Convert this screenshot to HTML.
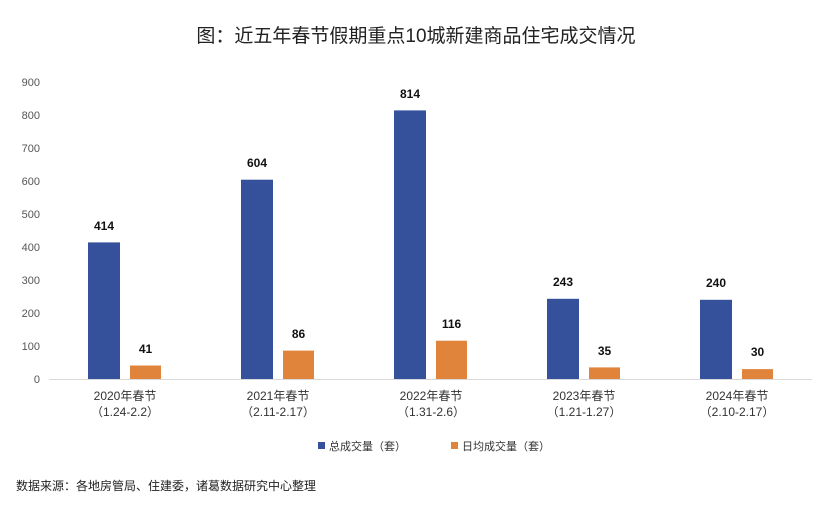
<!DOCTYPE html>
<html><head><meta charset="utf-8"><style>
body{margin:0;background:#fff;width:832px;height:502px;overflow:hidden}
svg text{font-family:"Liberation Sans","Noto Sans CJK SC",sans-serif}
</style></head><body>
<svg width="832" height="502" xmlns="http://www.w3.org/2000/svg">
<text x="416" y="42" font-size="19" text-anchor="middle" fill="#222">图：近五年春节假期重点10城新建商品住宅成交情况</text>
<g font-size="11" fill="#555" text-anchor="end">
<text x="40" y="383">0</text><text x="40" y="350">100</text><text x="40" y="317">200</text><text x="40" y="284">300</text><text x="40" y="251">400</text><text x="40" y="218">500</text><text x="40" y="185">600</text><text x="40" y="152">700</text><text x="40" y="119">800</text><text x="40" y="86">900</text>
</g>
<line x1="49" y1="379.5" x2="812" y2="379.5" stroke="#d9d9d9" stroke-width="1"/>
<g fill="#35519b">
<rect x="88" y="242.4" width="32" height="136.6"/>
<rect x="241" y="179.7" width="32" height="199.3"/>
<rect x="394" y="110.4" width="32" height="268.6"/>
<rect x="547" y="298.8" width="32" height="80.2"/>
<rect x="700" y="299.8" width="32" height="79.2"/>
</g>
<g fill="#e0843b">
<rect x="130" y="365.5" width="31" height="13.5"/>
<rect x="283" y="350.6" width="31" height="28.4"/>
<rect x="436" y="340.7" width="31" height="38.3"/>
<rect x="589" y="367.4" width="31" height="11.6"/>
<rect x="742" y="369.1" width="31" height="9.9"/>
</g>
<g font-size="12" font-weight="bold" text-anchor="middle" fill="#111">
<text x="104" y="230">414</text><text x="145.5" y="353">41</text>
<text x="257" y="167">604</text><text x="298.5" y="338">86</text>
<text x="410" y="98">814</text><text x="451.5" y="328">116</text>
<text x="563" y="286">243</text><text x="604.5" y="355">35</text>
<text x="716" y="287">240</text><text x="757.5" y="356">30</text>
</g>
<g font-size="12" fill="#333" text-anchor="middle">
<text x="125" y="400">2020年春节</text><text x="125" y="416">（1.24-2.2）</text>
<text x="278" y="400">2021年春节</text><text x="278" y="416">（2.11-2.17）</text>
<text x="431" y="400">2022年春节</text><text x="431" y="416">（1.31-2.6）</text>
<text x="584" y="400">2023年春节</text><text x="584" y="416">（1.21-1.27）</text>
<text x="737" y="400">2024年春节</text><text x="737" y="416">（2.10-2.17）</text>
</g>
<rect x="318" y="442" width="7" height="7" fill="#35519b"/>
<text x="329" y="450" font-size="11" fill="#333">总成交量（套）</text>
<rect x="451" y="442" width="7" height="7" fill="#e0843b"/>
<text x="462" y="450" font-size="11" fill="#333">日均成交量（套）</text>
<text x="16" y="490" font-size="12" fill="#222">数据来源：各地房管局、住建委，诸葛数据研究中心整理</text>
</svg>
</body></html>
